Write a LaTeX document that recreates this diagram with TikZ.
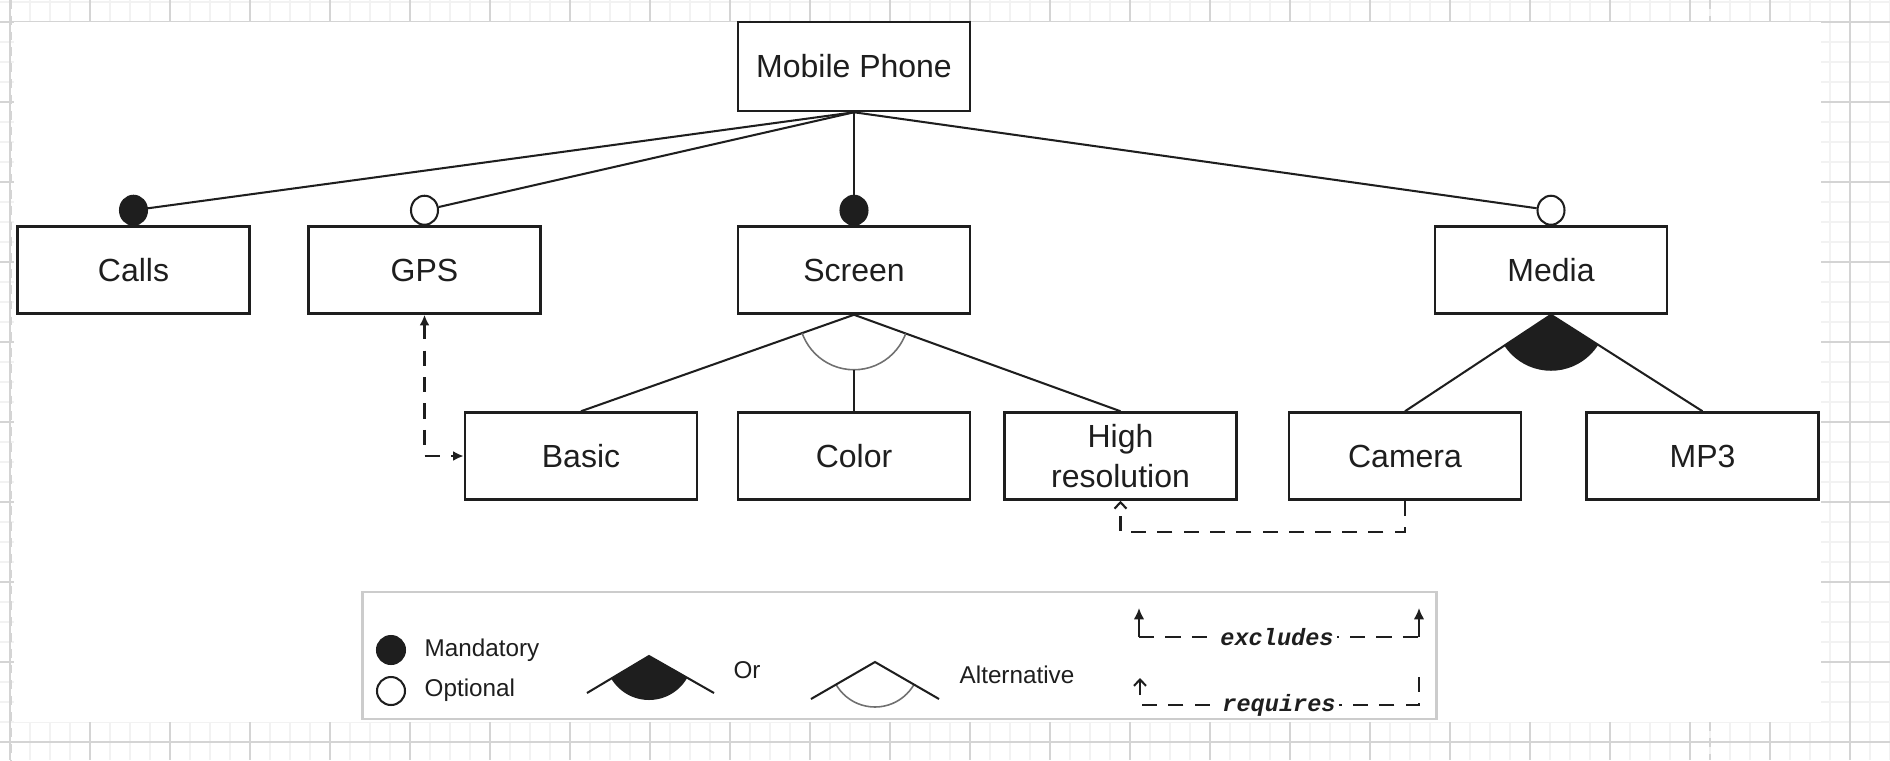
\documentclass[tikz,border=0pt]{standalone}
\usepackage{fontspec}
\setmainfont{Liberation Sans}
\newfontfamily\legmono{Liberation Mono}
\usetikzlibrary{arrows.meta,calc,shapes.geometric}
\definecolor{ink}{HTML}{1E1E1E}
\definecolor{gridminor}{HTML}{F2F2F2}
\definecolor{gridmajor}{HTML}{D4D4D4}
\definecolor{arcgray}{HTML}{707070}
\definecolor{legframe}{HTML}{CCCCCC}
\begin{document}
\begin{tikzpicture}[x=0.01cm,y=-0.01cm,
  feat/.style={draw=ink, line width=0.7pt, minimum width=2.32cm, minimum height=0.87cm,
    inner sep=0pt, text=ink, align=center, font=\fontsize{9.1}{11.4}\selectfont},
  link/.style={draw=ink, line width=0.58pt},
  mandm/.style={ellipse, draw=ink, fill=ink, line width=0.58pt, minimum width=0.27cm,
    minimum height=0.29cm, inner sep=0pt},
  optm/.style={ellipse, draw=ink, fill=white, line width=0.58pt, minimum width=0.27cm,
    minimum height=0.29cm, inner sep=0pt},
  dep/.style={draw=ink, line width=0.6pt, dash pattern=on 4.3pt off 3.2pt},
  extip/.style={-{Latex[length=3.2pt,width=3pt]}},
  reqtip/.style={-{Straight Barb[length=1.8pt,width=3.4pt]}},
  legtext/.style={font=\fontsize{6.9}{8}\selectfont, text=ink, inner sep=0pt},
  legmonotext/.style={font=\legmono\bfseries\itshape\fontsize{6.7}{8}\selectfont,
    text=ink, fill=white, inner xsep=1pt, inner ysep=0pt},
  gminor/.style={draw=gridminor, line width=0.3pt},
  gmajor/.style={draw=gridmajor, line width=0.3pt},
]
\useasboundingbox (0,0) rectangle (1890,760);
% background grid of the editor canvas
\fill[white] (0,0) rectangle (1890,760);
\foreach \i in {10,30,...,1890} \draw[gminor] (\i,0) -- (\i,760);
\foreach \j in {2,22,...,760} \draw[gminor] (0,\j) -- (1890,\j);
\foreach \i in {10,90,...,1890} \draw[gmajor] (\i,0) -- (\i,760);
\foreach \j in {22,102,...,760} \draw[gmajor] (0,\j) -- (1890,\j);
\fill[white] (14,22) rectangle (1821,722);
\draw[gridmajor, line width=0.5pt, dash pattern=on 2.5pt off 2pt] (1710,0) -- (1710,22);
\draw[gridmajor, line width=0.5pt, dash pattern=on 2.5pt off 2pt] (1710,722) -- (1710,760);
\draw[gridmajor, line width=0.5pt, dash pattern=on 2.5pt off 2pt] (11,0) -- (11,760);

% features
\node[feat, minimum height=0.89cm] (MP) at (854,66.5) {Mobile Phone};
\node[feat] (Calls)  at (133.5,270) {Calls};
\node[feat] (GPS)    at (424.5,270) {GPS};
\node[feat] (Screen) at (854,270)   {Screen};
\node[feat] (Media)  at (1551,270)  {Media};
\node[feat] (Basic)  at (581,456)   {Basic};
\node[feat] (Color)  at (854,456)   {Color};
\node[feat] (HR)     at (1120.5,456) {High\\resolution};
\node[feat] (Camera) at (1405,456)  {Camera};
\node[feat] (MPthree) at (1702.5,456) {MP3};

% mandatory / optional markers
\node[mandm] (mCalls)  at ($(Calls.north)+(0,-15)$) {};
\node[optm]  (oGPS)    at ($(GPS.north)+(0,-15)$) {};
\node[mandm] (mScreen) at ($(Screen.north)+(0,-15)$) {};
\node[optm]  (oMedia)  at ($(Media.north)+(0,-15)$) {};

\draw[link] (MP.south) -- (mCalls);
\draw[link] (MP.south) -- (oGPS);
\draw[link] (MP.south) -- (mScreen);
\draw[link] (MP.south) -- (oMedia);

% alternative group under Screen
\draw[link] (Screen.south) -- (Basic.north);
\draw[link] (Screen.south) -- (HR.north);
\begin{scope}
  \clip (Screen.south) -- (Basic.north) -- (HR.north) -- cycle;
  \draw[arcgray, line width=0.45pt] (Screen.south) circle[radius=55];
\end{scope}
\draw[link] ($(Screen.south)+(0,55)$) -- (Color.north);

% or group under Media
\begin{scope}
  \clip (Media.south) circle[radius=56];
  \fill[ink] (Media.south) -- (Camera.north) -- (MPthree.north) -- cycle;
\end{scope}
\draw[link] (Media.south) -- (Camera.north);
\draw[link] (Media.south) -- (MPthree.north);

% cross-tree constraints
\draw[dep, {Latex[length=3pt,width=2.8pt]}-{Latex[length=3pt,width=2.8pt]}] (GPS.south) |- (Basic.west);
\draw[dep, reqtip] (Camera.south) -- ($(Camera.south)+(0,31)$) -| (HR.south);

% legend
\node[mandm, minimum width=0.28cm, minimum height=0.28cm] (lgM) at (391,650) {};
\node[optm, minimum width=0.28cm, minimum height=0.28cm] (lgO) at (391,691) {};
\node[legtext, anchor=west] (tM) at (424,650) {Mandatory};
\node[legtext, anchor=west] (tO) at (424,690) {Optional};

\coordinate (orA) at (649,656);
\coordinate (orL) at (587,693);
\coordinate (orR) at (714,693);
\begin{scope}
  \clip (orA) circle[radius=44];
  \fill[ink] (orA) -- ($(orA)!2!(orL)$) -- ($(orA)!2!(orR)$) -- cycle;
\end{scope}
\draw[link] (orL) -- (orA) -- (orR);
\node[legtext] (tOr) at (747,670) {Or};

\coordinate (alA) at (875,662);
\coordinate (alL) at (811,699);
\coordinate (alR) at (939,699);
\begin{scope}
  \clip (alA) -- ($(alA)!2!(alL)$) -- ($(alA)!2!(alR)$) -- cycle;
  \draw[arcgray, line width=0.45pt] (alA) circle[radius=45];
\end{scope}
\draw[link] (alL) -- (alA) -- (alR);
\node[legtext] (tAlt) at (1017,675) {Alternative};

\coordinate (exL) at (1139,637);
\coordinate (exR) at (1419,637);
\coordinate (exLt) at (1139,608);
\coordinate (exRt) at (1419,608);
\draw[dep] (exL) -- (exR);
\draw[link, extip] (exL) -- (exLt);
\draw[link, extip] (exR) -- (exRt);
\node[legmonotext] (tEx) at (1277,637) {excludes};

\coordinate (rqRt) at (1419,677);
\coordinate (rqR) at (1419,705);
\coordinate (rqL) at (1140,705);
\coordinate (rqLb) at (1140,695);
\coordinate (rqLt) at (1140,678);
\draw[dep] (rqRt) -- (rqR) -- (rqL);
\draw[link, reqtip] (rqLb) -- (rqLt);
\node[legmonotext] (tRq) at (1279,705) {requires};

\node[draw=legframe, line width=0.8pt, minimum width=10.73cm, minimum height=1.27cm, inner sep=0pt] (Leg) at (899.5,655.5) {};
\end{tikzpicture}
\end{document}
